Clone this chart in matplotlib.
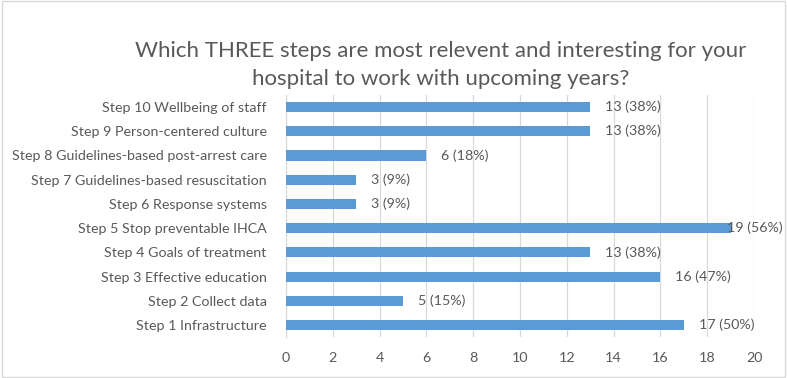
import matplotlib.pyplot as plt
from matplotlib.patches import Rectangle

plt.rcParams['font.family'] = ['Lato', 'DejaVu Sans']

# Data (bottom to top)
steps = [
    "Step 1 Infrastructure",
    "Step 2 Collect data",
    "Step 3 Effective education",
    "Step 4 Goals of treatment",
    "Step 5 Stop preventable IHCA",
    "Step 6 Response systems",
    "Step 7 Guidelines-based resuscitation",
    "Step 8 Guidelines-based post-arrest care",
    "Step 9 Person-centered culture",
    "Step 10 Wellbeing of staff",
]
counts = [17, 5, 16, 13, 19, 3, 3, 6, 13, 13]
percents = [50, 15, 47, 38, 56, 9, 9, 18, 38, 38]
xticks = list(range(0, 21, 2))

text_color = "#595959"
bar_color = "#5B9BD5"

fig = plt.figure(figsize=(7.87, 3.78), dpi=100)
ax = fig.add_axes([0.3634, 0.108, 0.5947, 0.641])

y = range(len(steps))
ax.barh(y, counts, height=0.42, color=bar_color, zorder=3)
for yi, c, p in zip(y, counts, percents):
    # like Excel, a label that would run off the chart is pulled back over the bar
    x = c + 0.64 if c < 18 else c - 0.15
    ax.text(x, yi, f"{c} ({p}%)", va="center", ha="left",
            fontsize=10.3, color=text_color, zorder=4)

ax.set_xlim(0, 20)
ax.set_ylim(-0.5, len(steps) - 0.5)
ax.set_xticks(xticks)
ax.set_yticks(list(y))
ax.set_yticklabels(steps)
ax.tick_params(axis="both", length=0, labelsize=10.3, colors=text_color)
ax.tick_params(axis="x", pad=11)
ax.tick_params(axis="y", pad=14)
ax.grid(axis="x", color="#D9D9D9", linewidth=0.9, zorder=0)
for side in ["top", "right", "bottom"]:
    ax.spines[side].set_visible(False)
ax.spines["left"].set_color("#D9D9D9")

fig.text(0.56, 0.828, "Which THREE steps are most relevent and interesting for your\nhospital to work with upcoming years?",
         ha="center", va="center", fontsize=16, color=text_color, linespacing=1.45)

fig.patches.append(Rectangle((0.002, 0.003), 0.996, 0.994, transform=fig.transFigure,
                             fill=False, edgecolor="#D9D9D9", linewidth=1))

plt.savefig("out.png", dpi=100)
